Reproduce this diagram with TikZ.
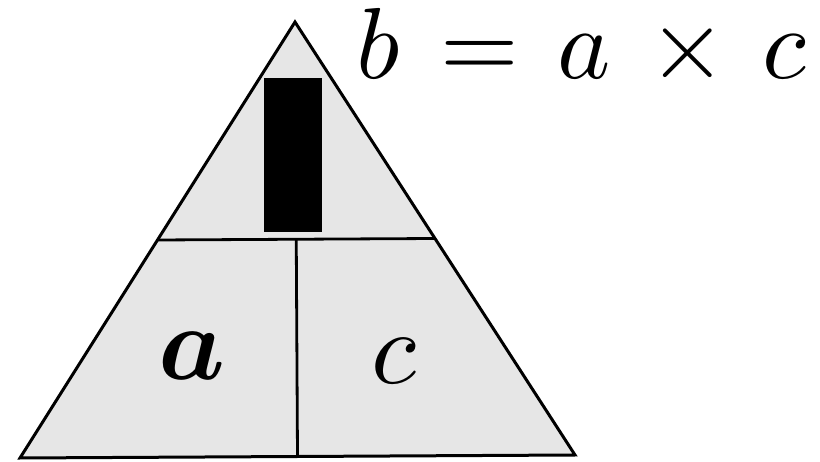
\documentclass[tikz,border=0pt]{standalone}
\usepackage{amsmath}
\usetikzlibrary{calc}
\tikzset{
  edge/.style={line width=3pt, line join=miter},
  inner/.style={line width=2.8pt},
  lbl/.style={inner sep=0pt, anchor=base}
}
\begin{document}
\begin{tikzpicture}[x=1pt,y=-1pt]
\useasboundingbox[fill=white] (0,0) rectangle (820,462);
\coordinate (A) at (295,22);
\coordinate (BL) at (20,458);
\coordinate (BR) at (575,455);
\coordinate (ML) at ($(A)!0.5!(BL)$);
\coordinate (MR) at ($(A)!0.5!(BR)$);
\coordinate (MT) at ($(ML)!0.5!(MR)$);
\coordinate (MB) at ($(BL)!0.5!(BR)$);
\draw[edge, fill={rgb,255:red,230;green,230;blue,230}] (A) -- (BL) -- (BR) -- cycle;
\draw[inner] (ML) -- (MR);
\draw[inner] (MT) -- (MB);
\node[fill=black, inner sep=0pt, minimum width=58pt, minimum height=154pt] (blk) at (293,155) {};
\node[lbl, scale=10.6] (la) at (192,380) {$\boldsymbol{a}$};
\node[lbl, scale=10.4] (lc) at (394,384) {$c$};
\node[lbl, anchor=base west, scale=10.1] (eq) at (354,79) {$b\mskip7.3mu{=}\mskip6.8mu a\mskip6.8mu{\times}\mskip6.3mu c$};
\end{tikzpicture}
\end{document}
